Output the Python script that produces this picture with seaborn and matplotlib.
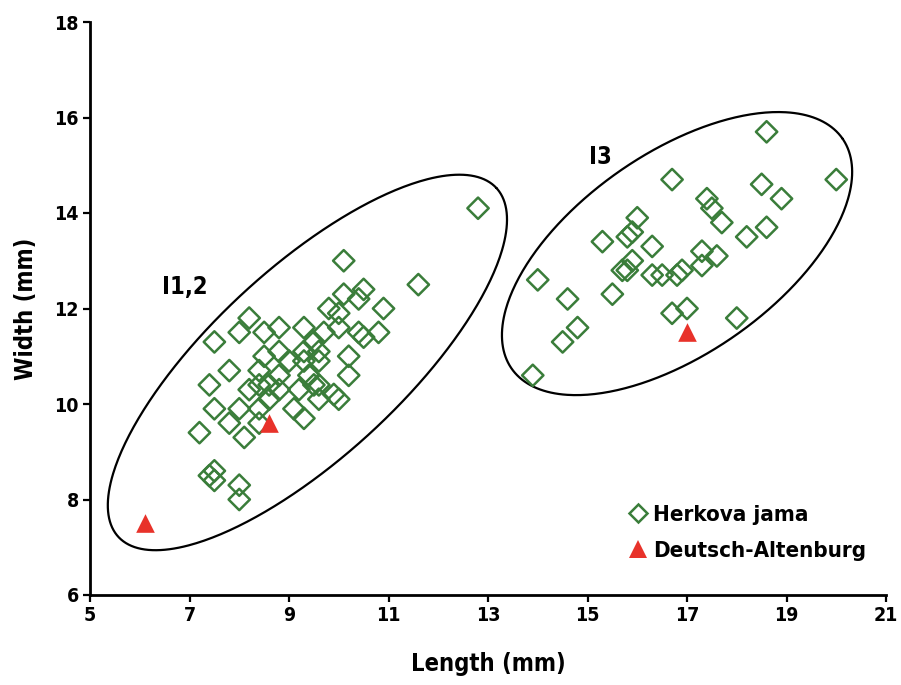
import matplotlib
matplotlib.use("Agg")
import matplotlib.pyplot as plt
from matplotlib.lines import Line2D
import seaborn as sns
import pandas as pd
import numpy as np

# Herkova jama specimens: length and width (mm)
herkova_length = [
    12.8, 10.1, 11.6, 10.9, 10.5, 10.1, 10.4, 9.8, 10.0, 10.0, 10.4, 10.5, 10.8,
    9.7, 9.3, 8.8, 8.5, 8.2, 8.0, 7.5, 8.5, 8.8, 9.0, 9.3, 9.5, 9.6, 9.6, 9.3,
    10.2, 10.2, 8.8, 8.4, 7.8, 8.4, 8.2, 8.6, 8.8, 9.2, 9.5, 9.6, 9.9, 9.6, 10.0,
    7.4, 7.5, 8.0, 8.6, 9.1, 9.3, 7.2, 7.8, 8.1, 8.4, 8.4, 7.4, 7.5, 7.5, 8.0,
    8.0, 9.4,
    18.6, 20.0, 16.7, 18.5, 18.9, 17.4, 17.5, 17.7, 16.0, 15.9, 15.8, 15.3, 16.3,
    18.2, 18.6, 17.3, 17.6, 17.3, 15.9, 15.8, 15.7, 16.3, 16.5, 16.8, 16.9, 14.0,
    14.6, 15.5, 16.7, 17.0, 18.0, 14.8, 14.5, 13.9,
]
herkova_width = [
    14.1, 13.0, 12.5, 12.0, 12.4, 12.3, 12.2, 12.0, 11.9, 11.6, 11.5, 11.4, 11.5,
    11.5, 11.6, 11.6, 11.5, 11.8, 11.5, 11.3, 11.0, 11.1, 10.9, 11.1, 11.3, 11.1,
    10.9, 10.9, 11.0, 10.6, 10.6, 10.7, 10.7, 10.4, 10.3, 10.4, 10.3, 10.3, 10.4,
    10.4, 10.2, 10.1, 10.1, 10.4, 9.9, 9.9, 10.1, 9.9, 9.7, 9.4, 9.6, 9.3, 9.6,
    9.9, 8.5, 8.6, 8.4, 8.3, 8.0, 10.6,
    15.7, 14.7, 14.7, 14.6, 14.3, 14.3, 14.1, 13.8, 13.9, 13.6, 13.5, 13.4, 13.3,
    13.5, 13.7, 13.2, 13.1, 12.9, 13.0, 12.8, 12.8, 12.7, 12.7, 12.7, 12.8, 12.6,
    12.2, 12.3, 11.9, 12.0, 11.8, 11.6, 11.3, 10.6,
]

# Deutsch-Altenburg specimens
altenburg_length = [6.1, 8.6, 17.0]
altenburg_width = [7.5, 9.6, 11.5]

x_ticks = [5, 7, 9, 11, 13, 15, 17, 19, 21]
y_ticks = [6, 8, 10, 12, 14, 16, 18]

GREEN = "#3a7d3a"
RED = "#e8322a"

sns.set_theme(style="white")
plt.rcParams["font.family"] = ["DejaVu Sans"]
plt.rcParams["font.stretch"] = "condensed"
plt.rcParams["font.weight"] = "bold"
plt.rcParams["text.color"] = "black"
plt.rcParams["axes.labelcolor"] = "black"

fig = plt.figure(figsize=(9.01, 6.85), dpi=100)
ax = fig.add_axes([90 / 901, 1 - 595 / 685, 796 / 901, 573 / 685])

herkova = pd.DataFrame({"Length": herkova_length, "Width": herkova_width})
altenburg = pd.DataFrame({"Length": altenburg_length, "Width": altenburg_width})

sns.scatterplot(data=herkova, x="Length", y="Width", ax=ax, marker="D", s=118,
                facecolors="none", edgecolors=GREEN, linewidths=1.8, zorder=3)
sns.scatterplot(data=altenburg, x="Length", y="Width", ax=ax, marker="^", s=180,
                color=RED, edgecolor=RED, linewidth=0, zorder=4)

ax.set_xlim(5, 21)
ax.set_ylim(6, 18)


def group_outline(cx, cy, a, b, angle_deg):
    """Closed ellipse around a group; a, b are semi-axes in length-axis units,
    angle measured on screen."""
    bbox = ax.get_window_extent()
    sx = bbox.width / (ax.get_xlim()[1] - ax.get_xlim()[0])
    sy = bbox.height / (ax.get_ylim()[1] - ax.get_ylim()[0])
    t = np.linspace(0, 2 * np.pi, 400)
    th = np.deg2rad(angle_deg)
    du = a * np.cos(t) * np.cos(th) - b * np.sin(t) * np.sin(th)
    dv = a * np.cos(t) * np.sin(th) + b * np.sin(t) * np.cos(th)
    ax.plot(cx + du, cy + dv * sx / sy, color="black", linewidth=1.6, zorder=2)


group_outline(9.37, 10.87, 5.17, 1.90, 42.7)
group_outline(16.80, 13.15, 4.05, 2.02, 34.8)

ax.text(6.9, 12.45, "I1,2", fontsize=17, fontweight="bold", ha="center", va="center")
ax.text(15.25, 15.17, "I3", fontsize=17, fontweight="bold", ha="center", va="center")

ax.set_xticks(x_ticks)
ax.set_yticks(y_ticks)
ax.tick_params(axis="both", which="major", direction="out", length=5, width=1.6,
               color="black", labelsize=14, labelcolor="black", pad=3,
               bottom=True, left=True)
for lab in ax.get_xticklabels() + ax.get_yticklabels():
    lab.set_fontweight("bold")

for side in ["top", "right"]:
    ax.spines[side].set_visible(False)
for side in ["left", "bottom"]:
    ax.spines[side].set_color("black")
    ax.spines[side].set_linewidth(2)

ax.set_xlabel("Length (mm)", fontsize=17, fontweight="bold", labelpad=19)
ax.set_ylabel("Width (mm)", fontsize=17, fontweight="bold", labelpad=12)

handles = [
    Line2D([], [], linestyle="none", marker="D", markersize=9.5,
           markerfacecolor="none", markeredgecolor=GREEN, markeredgewidth=1.8),
    Line2D([], [], linestyle="none", marker="^", markersize=13,
           markerfacecolor=RED, markeredgecolor=RED, markeredgewidth=0),
]
ax.legend(handles, ["Herkova jama", "Deutsch-Altenburg"], loc="lower right",
          bbox_to_anchor=(0.975, 0.06), frameon=False, handlelength=0.8,
          handletextpad=0.3, labelspacing=0.7, borderpad=0, borderaxespad=0,
          prop={"size": 16, "weight": "bold", "stretch": "condensed"})

fig.savefig("out.png", dpi=100, facecolor="white")
